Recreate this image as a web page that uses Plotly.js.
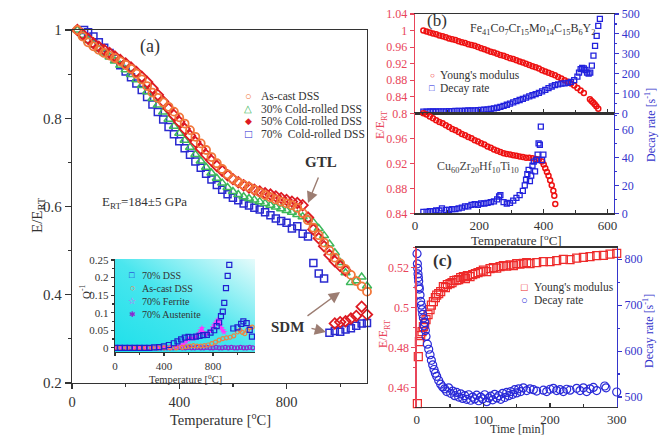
<!DOCTYPE html>
<html><head><meta charset="utf-8">
<script src="https://cdn.plot.ly/plotly-3.0.1.min.js"></script>
<style>html,body{margin:0;padding:0;background:#fff}#chart{width:672px;height:437px}</style>
</head><body><div id="chart"></div>
<script>
// ---------- Panel (a): E/E_RT vs temperature ----------
const aT = [20,40,60,80,100,120,140,160,180,200,220,240,260,280,300,320,340,360,380,400,420,440,460,480,500,520,540,560,580,600,620,640,660,680,700,720,740,760,780,800,820,840,860,880,900,920,940,960,980,1000,1020,1040,1060,1080,1100];
const asCastE = [1.0,0.985,0.972,0.963,0.955,0.948,0.942,0.936,0.929,0.921,0.912,0.901,0.888,0.873,0.858,0.846,0.836,0.826,0.815,0.802,0.788,0.773,0.758,0.743,0.728,0.712,0.698,0.685,0.673,0.662,0.655,0.649,0.644,0.638,0.632,0.626,0.621,0.616,0.611,0.607,0.603,0.597,0.585,0.569,0.552,0.535,0.518,0.5,0.484,0.471,0.458,0.445,0.431,0.419,0.407];
const cr30E = [1.0,0.988,0.976,0.966,0.957,0.948,0.939,0.93,0.92,0.91,0.899,0.887,0.874,0.86,0.845,0.83,0.814,0.798,0.782,0.766,0.75,0.734,0.718,0.703,0.689,0.676,0.664,0.653,0.643,0.634,0.627,0.622,0.618,0.615,0.611,0.607,0.603,0.599,0.595,0.591,0.587,0.582,0.577,0.571,0.564,0.55,0.534,0.515,0.495,0.473,0.45,0.428,0.432,0.44,0.42];
const cr50T = [20,40,60,80,100,120,140,160,180,200,220,240,260,280,300,320,340,360,380,400,420,440,460,480,500,520,540,560,580,600,620,640,660,680,700,720,740,760,780,800,820,840,860,880,900,920,940,960,980,1000,1020,980,1000,1020,1040,1060,1080,1100];
const cr50E = [1.0,0.99,0.98,0.97,0.962,0.955,0.948,0.94,0.932,0.924,0.915,0.905,0.894,0.882,0.868,0.853,0.838,0.822,0.807,0.792,0.776,0.761,0.746,0.731,0.717,0.704,0.692,0.681,0.671,0.662,0.655,0.648,0.643,0.638,0.634,0.63,0.627,0.623,0.619,0.615,0.611,0.608,0.603,0.575,0.548,0.528,0.51,0.49,0.476,0.465,0.455,0.335,0.338,0.34,0.346,0.352,0.373,0.355];
const cr70T = [45,60,80,100,120,140,160,180,200,220,240,260,280,300,320,340,360,380,400,420,440,460,480,500,520,540,560,580,600,620,640,660,680,700,720,740,760,780,800,820,840,860,880,900,920,940,960,980,1000,1020,1040,1060,1080,1100];
const cr70E = [1.0,0.995,0.985,0.972,0.96,0.948,0.935,0.92,0.906,0.893,0.879,0.864,0.848,0.831,0.814,0.797,0.78,0.764,0.748,0.732,0.717,0.702,0.688,0.674,0.661,0.649,0.638,0.628,0.62,0.614,0.607,0.602,0.597,0.593,0.587,0.58,0.573,0.567,0.563,0.55,0.555,0.538,0.532,0.472,0.448,0.437,0.314,0.318,0.316,0.321,0.324,0.33,0.335,0.336];

// ---------- Inset: internal friction Q^-1 ----------
const inDssT = [0,40,80,120,160,200,240,280,320,360,400,440,480,510,540,570,600,630,660,690,720,750,780,810,830,850,865,880,892,906,920,933,966,1000,1030,1048,1075,1100,1118];
const inDssQ = [0,0,0,0,0,0,0,0,0.001,0.002,0.004,0.008,0.013,0.018,0.024,0.029,0.031,0.03,0.032,0.034,0.036,0.037,0.043,0.05,0.062,0.072,0.09,0.103,0.128,0.17,0.205,0.236,0.055,0.058,0.068,0.075,0.07,0.051,0.032];
const inCastT = [0,50,100,150,200,250,300,350,400,450,500,550,580,610,640,670,700,730,760,790,820,850,880,910,940,970,1000,1020,1040,1060,1080,1100,1120];
const inCastQ = [0,0,0,0,0,0,0,0,0,0,0,0.001,0.003,0.005,0.006,0.005,0.005,0.006,0.008,0.012,0.016,0.022,0.026,0.028,0.03,0.034,0.045,0.05,0.044,0.04,0.05,0.057,0.059];
const inFerT = [0,50,100,150,200,250,300,350,400,450,500,540,560,580,600,620,640,660,680,700,710,720,740,760,780,800,810,820,830,840,850,860,870,880,890];
const inFerQ = [0,0,0,0,0,0,0,0,0.001,0.002,0.003,0.006,0.01,0.018,0.024,0.028,0.027,0.03,0.04,0.05,0.056,0.045,0.036,0.042,0.048,0.058,0.064,0.07,0.075,0.08,0.076,0.064,0.056,0.05,0.045];
const inAusT = [0,25,50,75,100,125,150,175,200,225,250,275,300,325,350,375,400,425,450,475,500,525,550,575,600,625,650,675,700,725,750,775,800,825,850,875,900,925,950,975,1000,1025,1050,1075,1100,1125];
const inAusQ = [0,0,0,0,0,0,0,0,0,0,0,0,0,0,0,0,0,0,0,0,0.001,0.001,0,0,0.001,0,0,0.001,0,0,0.001,0,0,0.001,0,0,0.001,0,0.001,0,0,0.001,0,0,0.001,0];

// ---------- Panel (b) upper: Fe-based glass ----------
const bUpT = [26,36,46,56,66,76,86,96,106,116,126,136,146,156,166,176,186,196,206,216,226,236,246,256,266,276,286,296,306,316,326,336,346,356,366,376,386,396,406,416,426,436,446,456,466,476,486,496,506,516,526,545,550,555,560,565,571];
const bUpE = [1.000,0.998,0.995,0.993,0.991,0.988,0.986,0.984,0.981,0.979,0.977,0.974,0.972,0.970,0.967,0.965,0.963,0.960,0.957,0.955,0.952,0.949,0.947,0.944,0.941,0.939,0.936,0.933,0.931,0.928,0.925,0.923,0.920,0.917,0.914,0.911,0.908,0.904,0.901,0.898,0.895,0.892,0.888,0.884,0.880,0.876,0.872,0.867,0.861,0.855,0.849,0.834,0.83,0.826,0.822,0.817,0.811];
const bUpDT = [26,36,46,56,66,76,86,96,106,116,126,136,146,156,166,176,186,196,206,216,226,236,246,256,266,276,286,296,306,316,326,336,346,356,366,376,386,396,406,416,426,436,446,456,466,476,486,496,506,511,516,521,526,531,536,541,546,551,556,561,566,571,576];
const bUpD = [8,8,9,9,9,10,10,10,11,11,12,12,12,13,14,14,15,16,17,18,20,22,25,28,32,37,43,49,55,61,67,73,79,85,91,97,103,110,118,127,135,142,146,149,151,153,158,167,185,205,222,228,226,218,205,200,205,240,290,340,390,440,475];

// ---------- Panel (b) lower: Cu-based glass ----------
const bLoT = [26,36,46,56,66,76,86,96,106,116,126,136,146,156,166,176,186,196,206,216,226,236,246,256,266,276,286,296,306,316,326,336,346,356,366,376,386,396,401,406,411,416,421,426,431,434,437];
const bLoE = [1.0,0.998,0.995,0.992,0.989,0.986,0.984,0.981,0.978,0.975,0.973,0.97,0.967,0.965,0.962,0.96,0.957,0.955,0.952,0.95,0.947,0.945,0.942,0.94,0.938,0.936,0.935,0.934,0.933,0.932,0.931,0.93,0.929,0.929,0.928,0.927,0.926,0.923,0.918,0.912,0.906,0.9,0.893,0.885,0.876,0.868,0.855];
const bLoDT = [26,36,46,56,66,76,84,96,106,116,126,136,146,156,166,176,186,196,206,216,226,236,246,256,262,266,276,286,296,306,316,326,336,342,346,350,354,358,362,366,370,374,378,382,385,389,392,396,400];
const bLoD = [1,1,1.5,1.5,2,2,3.5,2.5,2.5,3,3,3.5,4,5,5,6,6.5,6,7,7,7.5,8,8.5,10,12,13,8,7,7.5,9,11,13,16,20,24,28,31,23,27,34,37,30,38,42,50,49,62,38,42];

// ---------- Panel (c): isothermal annealing ----------
const cT = [1,2.4,4,6,8,10,12,14,17,20,22,25,28,30,33,36,40,43,46,50,53,56,60,63,66,70,73,76,80,84,88,92,96,100,105,110,115,120,125,130,135,140,145,150,155,160,165,170,180,190,200,210,220,230,240,250,260,270,280,290,300];
const cE = [0.452,0.4755,0.483,0.486,0.488,0.4905,0.492,0.494,0.4965,0.499,0.5013,0.503,0.505,0.5063,0.507,0.508,0.5105,0.51,0.5115,0.512,0.5125,0.5135,0.5138,0.514,0.515,0.5155,0.5145,0.516,0.5155,0.5165,0.517,0.5175,0.518,0.5188,0.518,0.5195,0.52,0.5198,0.5205,0.521,0.5208,0.5214,0.521,0.522,0.5218,0.5222,0.5225,0.522,0.5225,0.523,0.523,0.5235,0.5242,0.524,0.5248,0.5252,0.5255,0.526,0.5262,0.5268,0.5272];
const cDT = [0.5,1,1.5,2,2.5,3,3.5,4,5,6,7,8,9,10,11,12,13,14,16,18,20,22,24,26,28,30,33,36,39,42,45,48,51,54,57,60,63,66,69,72,75,78,81,84,87,90,93,96,99,102,105,108,111,114,117,120,123,126,129,132,135,138,141,144,147,150,153,156,160,165,170,175,180,190,195,200,205,210,215,220,225,230,240,245,250,255,260,265,270,282,284,300];
const cD = [812,790,780,768,760,752,740,735,722,708,700,690,680,672,655,662,645,632,615,604,592,580,570,560,552,545,536,528,522,518,512,520,508,513,503,510,500,507,497,503,495,505,493,500,496,504,492,500,496,505,490,498,502,494,506,498,503,495,508,499,510,503,512,506,516,509,518,512,520,514,518,516,513,515,512,517,519,514,516,512,517,515,519,514,520,512,518,521,514,524,520,511];

// ---------- styling ----------
const SERIF = 'Liberation Serif, Times New Roman, serif';
const W = 672, H = 437;
const PX = p => p / W, PY = p => 1 - p / H;
const RED = '#e8455a', BLUE = '#3535cc', DARK = '#333';

const traces = [
  {x: cr70T, y: cr70E, xaxis:'x', yaxis:'y', mode:'markers', cliponaxis:false,
   marker:{symbol:'square-open', size:7, color:'#2a2ad0', line:{width:1.5}}},
  {x: aT, y: cr30E, xaxis:'x', yaxis:'y', mode:'markers', cliponaxis:false,
   marker:{symbol:'triangle-up-open', size:8, color:'#3cb85a', line:{width:1.5}}},
  {x: cr50T, y: cr50E, xaxis:'x', yaxis:'y', mode:'markers', cliponaxis:false,
   marker:{symbol:'diamond-open', size:8, color:'#dd1a22', line:{width:1.8}}},
  {x: aT, y: asCastE, xaxis:'x', yaxis:'y', mode:'markers', cliponaxis:false,
   marker:{symbol:'circle-open', size:8, color:'#f2773a', line:{width:1.8}}},
  // inset
  {x: inAusT, y: inAusQ, xaxis:'x2', yaxis:'y2', mode:'markers', marker:{symbol:'circle-open', size:4, color:'#8a2ad0', line:{width:1.2}}},
  {x: inFerT, y: inFerQ, xaxis:'x2', yaxis:'y2', mode:'markers', marker:{symbol:'star', size:5, color:'#ff33ff'}},
  {x: inCastT, y: inCastQ, xaxis:'x2', yaxis:'y2', mode:'markers', marker:{symbol:'circle-open', size:4, color:'#f08040', line:{width:1.2}}},
  {x: inDssT, y: inDssQ, xaxis:'x2', yaxis:'y2', mode:'markers', marker:{symbol:'square-open', size:5, color:'#2020d0', line:{width:1.2}}},
  // (b) upper
  {x: bUpT, y: bUpE, xaxis:'x3', yaxis:'y3', mode:'markers', cliponaxis:false, marker:{symbol:'circle-open', size:5, color:'#ee1111', line:{width:1.5}}},
  {x: bUpDT, y: bUpD, xaxis:'x3', yaxis:'y4', mode:'markers', cliponaxis:false, marker:{symbol:'square-open', size:5, color:'#2222dd', line:{width:1.3}}},
  // (b) lower
  {x: bLoT, y: bLoE, xaxis:'x4', yaxis:'y5', mode:'markers', cliponaxis:false, marker:{symbol:'circle-open', size:5, color:'#ee1111', line:{width:1.5}}},
  {x: bLoDT, y: bLoD, xaxis:'x4', yaxis:'y6', mode:'markers', cliponaxis:false, marker:{symbol:'square-open', size:5, color:'#2222dd', line:{width:1.3}}},
  // (c)
  {x: cT, y: cE, xaxis:'x5', yaxis:'y7', mode:'markers', cliponaxis:false, marker:{symbol:'square-open', size:8, color:'#ee2a2a', line:{width:1.2}}},
  {x: cDT, y: cD, xaxis:'x5', yaxis:'y8', mode:'markers', cliponaxis:false, marker:{symbol:'circle-open', size:8, color:'#2a2ad8', line:{width:1.2}}}
].map(t => Object.assign({showlegend:false, hoverinfo:'skip', type:'scatter'}, t));

function ax(o){
  return Object.assign({showgrid:false, zeroline:false, showline:true, linecolor:DARK, linewidth:1.3,
    ticks:'outside', ticklen:5, tickwidth:1.2, tickcolor:DARK,
    tickfont:{family:SERIF, size:13, color:DARK}}, o);
}
function ann(x, y, text, size, color, extra){
  return Object.assign({xref:'paper', yref:'paper', x:PX(x), y:PY(y), text:text, showarrow:false,
    xanchor:'center', yanchor:'middle', font:{family:SERIF, size:size, color:color||DARK}}, extra||{});
}
function arrow(x, y, axp, ayp){
  return {xref:'paper', yref:'paper', x:PX(x), y:PY(y), ax:axp, ay:ayp, text:'', showarrow:true,
    arrowhead:2, arrowsize:1.6, arrowwidth:1.4, arrowcolor:'#9c7d72', standoff:0, startstandoff:0};
}

const annotations = [
  ann(150, 47, '(a)', 18),
  ann(38, 215, 'E/E<sub>RT</sub>', 15, DARK, {textangle:-90}),
  ann(220, 419, 'Temperature [<sup>o</sup>C]', 14.5),
  ann(100, 202, 'E<sub>RT</sub>=184±5 GPa', 13, DARK, {xanchor:'left'}),
  ann(321, 162, '<b>GTL</b>', 15),
  ann(287, 327, '<b>SDM</b>', 15),
  arrow(308, 203, 11, -27),
  arrow(340, 292, -34, 25),
  arrow(326, 332, -16, -4),
  // (a) legend
  ann(248, 96, '○', 11, '#f2773a'), ann(259, 96, 'As-cast DSS', 11.5, DARK, {xanchor:'left'}),
  ann(248, 108.5, '△', 10, '#3cb85a'), ann(259, 108.5, '30% Cold-rolled DSS', 11.5, DARK, {xanchor:'left'}),
  ann(248, 121, '◆', 9, '#dd1a22'), ann(259, 121, '50% Cold-rolled DSS', 11.5, DARK, {xanchor:'left'}),
  ann(248, 133.5, '□', 12, '#2a2ad0'), ann(259, 133.5, '70%  Cold-rolled DSS', 11.5, DARK, {xanchor:'left'}),
  // inset
  ann(85, 292, 'Q<sup>-1</sup>', 11, DARK, {textangle:-90}),
  ann(185, 378, 'Temperature [<sup>o</sup>C]', 10.5),
  ann(132, 275, '□', 9, '#2020d0'), ann(140, 275, '70% DSS', 10, DARK, {xanchor:'left'}),
  ann(132, 288, '○', 9, '#f08040'), ann(140, 288, 'As-cast DSS', 10, DARK, {xanchor:'left'}),
  ann(132, 301, '☆', 9, '#ff33ff'), ann(140, 301, '70% Ferrite', 10, DARK, {xanchor:'left'}),
  ann(132, 314, '✱', 8, '#8a2ad0'), ann(140, 314, '70% Austenite', 10, DARK, {xanchor:'left'}),
  // (b)
  ann(437, 21, '(b)', 17),
  ann(532, 29, 'Fe<sub>41</sub>Co<sub>7</sub>Cr<sub>15</sub>Mo<sub>14</sub>C<sub>15</sub>B<sub>6</sub>Y<sub>2</sub>', 12),
  ann(478, 167, 'Cu<sub>60</sub>Zr<sub>20</sub>Hf<sub>10</sub>Ti<sub>10</sub>', 12, '#444'),
  ann(432, 75, '○', 8, '#ee1111'), ann(438, 75, "Young's modulus", 11.5, DARK, {xanchor:'left'}),
  ann(432, 88, '□', 9, '#2222dd'), ann(438, 88, 'Decay rate', 11.5, DARK, {xanchor:'left'}),
  ann(381, 125, 'E/E<sub>RT</sub>', 12, RED, {textangle:-90}),
  ann(650, 125, 'Decay rate [s<sup>-1</sup>]', 12, BLUE, {textangle:-90}),
  ann(516, 240, 'Temperature [<sup>o</sup>C]', 13),
  // (c)
  ann(442, 260, '<b>(c)</b>', 17),
  ann(524, 287, '□', 11, '#ee2a2a'), ann(532, 287, "Young's modulus", 11.5, DARK, {xanchor:'left'}),
  ann(524, 300, '○', 11, '#2a2ad8'), ann(532, 300, 'Decay rate', 11.5, DARK, {xanchor:'left'}),
  ann(384, 334, 'E/E<sub>RT</sub>', 12, RED, {textangle:-90}),
  ann(648, 331, 'Decay rate [s<sup>-1</sup>]', 12, BLUE, {textangle:-90}),
  ann(517, 429, 'Time [min]', 12)
];

const grad = "data:image/svg+xml;utf8," + encodeURIComponent(
  "<svg xmlns='http://www.w3.org/2000/svg' width='200' height='120' viewBox='0 0 200 120' preserveAspectRatio='none'>" +
  "<defs><linearGradient id='g' x1='0' y1='1' x2='1' y2='0'>" +
  "<stop offset='0' stop-color='#1ee0ea'/><stop offset='0.5' stop-color='#4ae6ee'/><stop offset='1' stop-color='#e6fbfb'/>" +
  "</linearGradient></defs><rect width='200' height='120' fill='url(#g)'/></svg>");

const layout = {
  width: W, height: H, margin:{l:0, r:0, t:0, b:0},
  paper_bgcolor:'#ffffff', plot_bgcolor:'rgba(0,0,0,0)', showlegend:false,
  font:{family:SERIF, color:DARK},
  // (a)
  xaxis: ax({domain:[PX(72), PX(367)], anchor:'y', range:[0,1100], tick0:0, dtick:400, mirror:true, ticklen:5,
    minor:{dtick:200, ticks:'outside', ticklen:3, tickcolor:DARK}, tickfont:{family:SERIF, size:14.5, color:DARK}}),
  yaxis: ax({domain:[PY(383), PY(30)], anchor:'x', range:[0.2,1.0], dtick:0.2, mirror:true, ticklen:6,
    minor:{dtick:0.1, ticks:'outside', ticklen:3, tickcolor:DARK}, tickfont:{family:SERIF, size:15, color:DARK}}),
  // inset
  xaxis2: ax({domain:[PX(115), PX(255)], anchor:'y2', range:[0,1143], dtick:400, ticklen:3,
    minor:{dtick:200, ticks:'outside', ticklen:2, tickcolor:DARK}, tickfont:{family:SERIF, size:11, color:DARK}}),
  yaxis2: ax({domain:[PY(352), PY(259)], anchor:'x2', range:[-0.012,0.253], dtick:0.05, ticklen:3,
    minor:{dtick:0.025, ticks:'outside', ticklen:2, tickcolor:DARK}, tickfont:{family:SERIF, size:11, color:DARK}}),
  // (b) upper
  xaxis3: ax({domain:[PX(415), PX(614)], anchor:'y3', range:[0,620], dtick:200, ticks:'inside', ticklen:4,
    showticklabels:false, mirror:true, minor:{dtick:100, ticks:'inside', ticklen:3, tickcolor:DARK}}),
  yaxis3: ax({domain:[PY(113.3), PY(14)], anchor:'x3', range:[0.8,1.04], dtick:0.04, linecolor:RED, tickcolor:RED,
    ticklen:4, tickfont:{family:SERIF, size:12, color:RED}}),
  yaxis4: ax({overlaying:'y3', side:'right', anchor:'x3', range:[0,500], dtick:100, linecolor:BLUE, tickcolor:BLUE,
    ticklen:4, minor:{dtick:50, ticks:'outside', ticklen:2, tickcolor:BLUE}, tickfont:{family:SERIF, size:12, color:BLUE}}),
  // (b) lower
  xaxis4: ax({domain:[PX(415), PX(614)], anchor:'y5', range:[0,620], dtick:200, ticks:'inside', ticklen:4, mirror:true,
    minor:{dtick:100, ticks:'inside', ticklen:3, tickcolor:DARK}}),
  yaxis5: ax({domain:[PY(213.3), PY(113.3)], anchor:'x4', range:[0.84,1.0], tickvals:[0.84,0.88,0.92,0.96],
    linecolor:RED, tickcolor:RED, ticklen:4, tickfont:{family:SERIF, size:12, color:RED}}),
  yaxis6: ax({overlaying:'y5', side:'right', anchor:'x4', range:[0,71.5], tickvals:[0,20,40,60], linecolor:BLUE, tickcolor:BLUE,
    ticklen:4, minor:{dtick:10, ticks:'outside', ticklen:2, tickcolor:BLUE}, tickfont:{family:SERIF, size:12, color:BLUE}}),
  // (c)
  xaxis5: ax({domain:[PX(416.7), PX(616.7)], anchor:'y7', range:[0,300], dtick:100, ticks:'inside', ticklen:4, mirror:true,
    minor:{dtick:50, ticks:'inside', ticklen:3, tickcolor:DARK}}),
  yaxis7: ax({domain:[PY(406.7), PY(247.7)], anchor:'x5', range:[0.4505,0.53], dtick:0.02, linecolor:RED, tickcolor:RED,
    ticklen:4, minor:{dtick:0.01, ticks:'outside', ticklen:2, tickcolor:RED}, tickfont:{family:SERIF, size:12, color:RED}}),
  yaxis8: ax({overlaying:'y7', side:'right', anchor:'x5', range:[479,825], dtick:100, linecolor:BLUE, tickcolor:BLUE,
    ticklen:4, minor:{dtick:50, ticks:'outside', ticklen:2, tickcolor:BLUE}, tickfont:{family:SERIF, size:12, color:BLUE}}),
  images:[{source:grad, xref:'x2 domain', yref:'y2 domain', x:0, y:1, sizex:1, sizey:1,
    xanchor:'left', yanchor:'top', sizing:'stretch', layer:'below'}],
  annotations: annotations
};

Plotly.newPlot('chart', traces, layout, {staticPlot:true, displayModeBar:false});
</script></body></html>
